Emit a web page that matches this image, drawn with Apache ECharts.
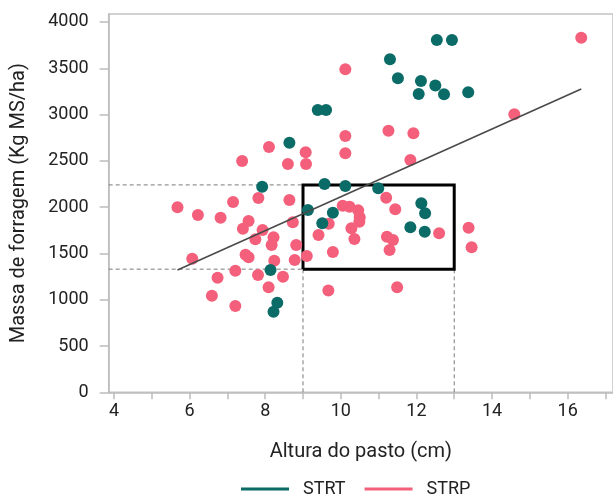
<!DOCTYPE html>
<html>
<head>
<meta charset="utf-8">
<script src="https://cdn.jsdelivr.net/npm/echarts@6/dist/echarts.min.js"></script>
<style>
  html, body { margin: 0; padding: 0; background: #fff; }
  #chart { width: 613px; height: 494px; }
</style>
</head>
<body>
<div id="chart"></div>
<script>
// Pasture height (cm) vs forage mass (kg DM/ha)
const strtHeight = [12.54, 12.94, 11.30, 11.51, 12.12, 12.50, 12.06, 12.73, 13.37,
  9.39, 9.61, 8.64, 7.92, 9.57, 10.12, 10.99, 9.13, 9.79, 9.51,
  12.13, 12.23, 11.84, 12.22, 8.14, 8.32, 8.22];
const strtMass = [3804, 3804, 3596, 3391, 3362, 3315, 3221, 3218, 3240,
  3049, 3049, 2696, 2221, 2249, 2228, 2203, 1969, 1940, 1825,
  2041, 1933, 1782, 1734, 1321, 968, 870];

const strpHeight = [16.36, 10.12, 10.12, 10.12, 11.26, 11.92, 11.84, 14.59, 8.10, 7.39,
  8.60, 9.07, 9.08, 5.68, 6.22, 6.82, 7.15, 7.82, 8.64, 7.56,
  7.41, 7.93, 7.74, 8.22, 8.17, 8.73, 8.82, 7.48, 7.56, 8.24,
  8.78, 6.07, 6.74, 7.21, 7.81, 8.47, 8.09, 6.59, 7.21, 9.10,
  9.67, 9.79, 9.41, 9.68, 10.05, 10.23, 10.46, 10.50, 10.49, 10.28,
  10.36, 11.20, 11.44, 11.22, 11.38, 11.29, 12.60, 13.38, 13.46, 11.49];
const strpMass = [3830, 3488, 2768, 2581, 2825, 2797, 2510, 3002, 2649, 2498,
  2465, 2592, 2465, 1998, 1915, 1886, 2055, 2098, 2077, 1850,
  1767, 1753, 1652, 1674, 1591, 1836, 1591, 1486, 1458, 1421,
  1429, 1443, 1238, 1313, 1267, 1249, 1134, 1043, 932, 1472,
  1100, 1515, 1699, 1820, 2015, 2004, 1965, 1890, 1842, 1771,
  1655, 2102, 1976, 1680, 1645, 1537, 1717, 1778, 1566, 1134];

// Fitted regression line end points
const fitHeight = [5.68, 16.36];
const fitMass = [1321, 3276];

// Highlighted target range
const rangeHeight = [9, 13];
const rangeMass = [1330, 2240];

const xTicks = [4, 5, 6, 7, 8, 9, 10, 11, 12, 13, 14, 15, 16, 17];
const xLabels = [4, 6, 8, 10, 12, 14, 16];
const yTicks = [0, 500, 1000, 1500, 2000, 2500, 3000, 3500, 4000];

const seriesNames = ['STRT', 'STRP'];
const colors = { STRT: '#0b6b67', STRP: '#f4607b' };

const X_MIN = 3.86, X_MAX = 17.2, Y_MIN = 0, Y_MAX = 4086;
const FONT = 'Roboto, sans-serif';

const zip = (a, b) => a.map((v, i) => [v, b[i]]);

const [x0, x1] = rangeHeight;
const [y0, y1] = rangeMass;

const dashStyle = { color: '#7a7a7a', width: 1, type: [4, 3] };

const chart = echarts.init(document.getElementById('chart'), null, { renderer: 'canvas' });

chart.setOption({
  animation: false,
  textStyle: { fontFamily: FONT },
  grid: {
    left: 108.7, top: 14, right: -2, bottom: 494 - 392.3,
    show: true, borderColor: '#c4c4c4', borderWidth: 1.5, backgroundColor: 'transparent'
  },
  legend: {
    bottom: -9, left: 236,
    itemWidth: 48, itemHeight: 3, itemGap: 19,
    data: seriesNames.map(n => ({ name: n, icon: 'rect' })),
    textStyle: { fontFamily: FONT, fontSize: 18, color: '#222', padding: [0, 0, 0, 9] }
  },
  xAxis: {
    type: 'value', min: X_MIN, max: X_MAX,
    name: 'Altura do pasto (cm)', nameLocation: 'middle', nameGap: 50,
    nameTextStyle: { fontFamily: FONT, fontSize: 20, color: '#222' },
    splitLine: { show: false },
    axisLine: { show: true, lineStyle: { color: '#bdbdbd', width: 1.5 } },
    axisTick: { show: true, customValues: xTicks, length: 7, lineStyle: { color: '#bdbdbd', width: 1.5 } },
    axisLabel: { customValues: xLabels, margin: 10, fontFamily: FONT, fontSize: 18, color: '#222',
      formatter: v => String(v) }
  },
  yAxis: {
    type: 'value', min: Y_MIN, max: Y_MAX,
    name: 'Massa de forragem (Kg MS/ha)', nameLocation: 'middle', nameGap: 80,
    nameTextStyle: { fontFamily: FONT, fontSize: 20, color: '#222' },
    splitLine: { show: false },
    axisLine: { show: true, lineStyle: { color: '#bdbdbd', width: 1.5 } },
    axisTick: { show: true, customValues: yTicks, length: 9, lineStyle: { color: '#bdbdbd', width: 1.5 } },
    axisLabel: { customValues: yTicks, margin: 20, fontFamily: FONT, fontSize: 18, color: '#222',
      formatter: v => String(v) }
  },
  series: [
    // dashed guides to the axes
    {
      type: 'line', silent: true, symbol: 'none', z: 1, lineStyle: dashStyle,
      data: [[X_MIN, y1], [x0, y1], null, [X_MIN, y0], [x0, y0]], connectNulls: false
    },
    {
      type: 'line', silent: true, symbol: 'none', z: 1, lineStyle: dashStyle,
      data: [[x0, Y_MIN], [x0, y0], null, [x1, Y_MIN], [x1, y0]], connectNulls: false
    },
    // target rectangle
    {
      type: 'line', silent: true, symbol: 'none', z: 2,
      lineStyle: { color: '#000', width: 3, join: 'miter' },
      data: [[x0, y0], [x1, y0], [x1, y1], [x0, y1], [x0, y0]]
    },
    {
      name: 'STRP', type: 'scatter', z: 3, symbolSize: 12,
      itemStyle: { color: colors.STRP, opacity: 1 },
      data: zip(strpHeight, strpMass)
    },
    {
      name: 'STRT', type: 'scatter', z: 4, symbolSize: 12,
      itemStyle: { color: colors.STRT, opacity: 1 },
      data: zip(strtHeight, strtMass)
    },
    // fitted line
    {
      type: 'line', silent: true, symbol: 'none', z: 5,
      lineStyle: { color: '#4a4a4a', width: 1.6 },
      data: zip(fitHeight, fitMass)
    }
  ]
});
</script>
</body>
</html>
